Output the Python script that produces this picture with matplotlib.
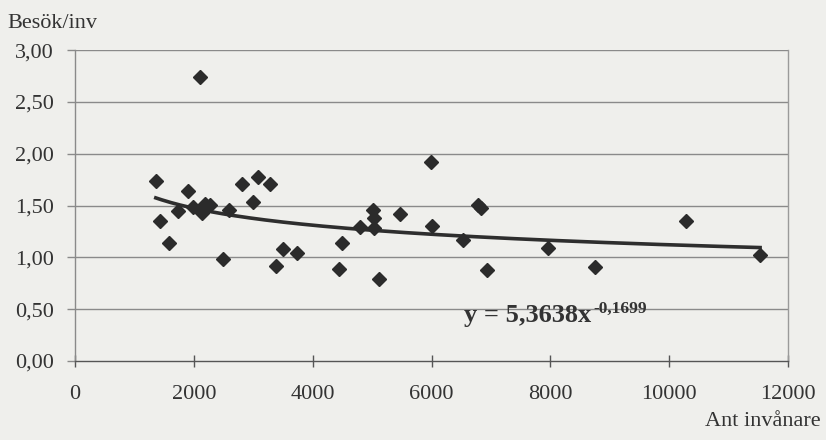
import numpy as np
import matplotlib
matplotlib.use("Agg")
import matplotlib.pyplot as plt

# Antal invanare och besok per invanare (avlast fran bilden)
invanare = [1360, 1430, 1580, 1735, 1900, 1990, 2100, 2130, 2150, 2190, 2270,
            2490, 2590, 2810, 3000, 3080, 3280, 3380, 3500, 3740,
            4440, 4490, 4800, 5015, 5030, 5040, 5115, 5470,
            5990, 6010, 6530, 6780, 6830, 6930, 7960, 8750, 10280, 11530]
besok = [1.74, 1.35, 1.14, 1.45, 1.64, 1.49, 2.74, 1.43, 1.47, 1.52, 1.51,
         0.98, 1.46, 1.71, 1.53, 1.78, 1.71, 0.92, 1.08, 1.04,
         0.89, 1.14, 1.29, 1.46, 1.38, 1.28, 0.79, 1.42,
         1.92, 1.30, 1.17, 1.51, 1.48, 0.88, 1.09, 0.91, 1.35, 1.02]

# Trendlinje y = a * x^b
a_koef = 5.3638
b_exp = -0.1699

x_ticks = [0, 2000, 4000, 6000, 8000, 10000, 12000]
y_ticks = [0.0, 0.5, 1.0, 1.5, 2.0, 2.5, 3.0]
y_labels = ["0,00", "0,50", "1,00", "1,50", "2,00", "2,50", "3,00"]

bg = "#efefec"
serif = ["Liberation Serif", "DejaVu Serif"]
txt = "#333333"

fig = plt.figure(figsize=(8.26, 4.40), dpi=100, facecolor=bg)
ax = fig.add_axes([0.0908, 0.1795, 0.8632, 0.7065])
ax.set_facecolor(bg)

ax.set_xlim(0, 12000)
ax.set_ylim(0, 3.0)

# gridlinjer
for yv in y_ticks[1:]:
    ax.axhline(yv, color="#8a8a8a", lw=1.0, zorder=1)

# trendlinje
xs = np.linspace(min(invanare), max(invanare), 200)
ax.plot(xs, a_koef * xs ** b_exp, color="#2e2e2e", lw=2.6, zorder=3)

# punkter
ax.plot(invanare, besok, linestyle="none", marker="D", markersize=7.4,
        color="#2b2b2b", zorder=4)

ax.spines["top"].set_visible(False)
ax.spines["left"].set_color("#8a8a8a")
ax.spines["right"].set_color("#9a9a9a")
ax.spines["bottom"].set_color("#555555")
for s in ax.spines.values():
    s.set_linewidth(1.0)

ax.set_xticks(x_ticks)
ax.set_xticklabels([str(v) for v in x_ticks])
ax.set_yticks(y_ticks)
ax.set_yticklabels(y_labels)
ax.tick_params(axis="x", direction="inout", length=8, width=1, color="#555555",
               pad=13, labelsize=16, labelcolor=txt)
ax.tick_params(axis="y", direction="out", length=6, width=1, color="#8a8a8a",
               pad=9, labelsize=16, labelcolor=txt)
for lab in ax.get_xticklabels() + ax.get_yticklabels():
    lab.set_family(serif)

fig.text(0.009, 0.947, "Besök/inv", fontsize=16, family=serif, color=txt,
         va="center", ha="left")
fig.text(0.993, 0.043, "Ant invånare", fontsize=16, family=serif, color=txt,
         va="center", ha="right")

# ekvation
eq = ax.text(0.545, 0.125, "y = 5,3638x", transform=ax.transAxes, fontsize=19,
             fontweight="bold", family=serif, color=txt, va="baseline", ha="left")
ax.annotate("-0,1699", xy=(1.02, 0.78), xycoords=eq, fontsize=12.5,
            fontweight="bold", family=serif, color=txt, va="center", ha="left")

fig.savefig("out.png", dpi=100, facecolor=bg)
